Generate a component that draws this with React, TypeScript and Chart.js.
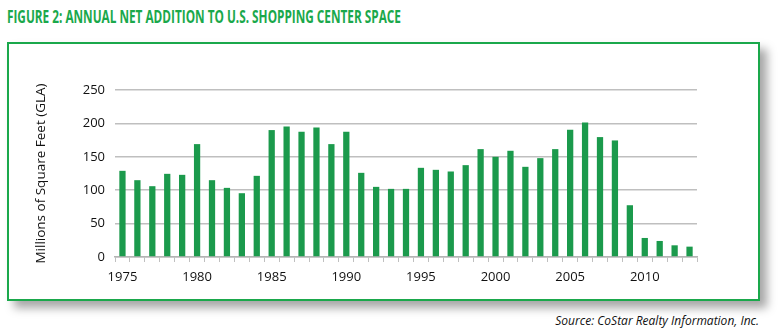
import React, { useEffect, useRef } from "react";
import { Chart, registerables } from "chart.js";
Chart.register(...registerables);

const years = [
  "1975", "1976", "1977", "1978", "1979", "1980", "1981", "1982", "1983", "1984",
  "1985", "1986", "1987", "1988", "1989", "1990", "1991", "1992", "1993", "1994",
  "1995", "1996", "1997", "1998", "1999", "2000", "2001", "2002", "2003", "2004",
  "2005", "2006", "2007", "2008", "2009", "2010", "2011", "2012", "2013",
];
const additions = [
  129, 115, 106, 124.5, 123, 169, 115, 103.5, 95.5, 121.5,
  190, 195.5, 187.5, 194, 169, 187.5, 126, 105, 102, 102,
  133.5, 130.5, 128, 137.5, 161.5, 150, 159, 135, 148, 161.5,
  190.5, 201.5, 179.5, 174.5, 77.5, 28.5, 24, 17.5, 15.5,
];
const shownYears = ["1975", "1980", "1985", "1990", "1995", "2000", "2005", "2010"];
const yMin = 0;
const yMax = 250;
const yStep = 50;

const titleText = "FIGURE 2: ANNUAL NET ADDITION TO U.S. SHOPPING CENTER SPACE";
const yTitle = "Millions of Square Feet (GLA)";
const sourceText = "Source: CoStar Realty Information, Inc.";

const GREEN = "#1aa84b";
const BAR = "#1b9a4c";

export default function App() {
  const ref = useRef<HTMLCanvasElement | null>(null);
  useEffect(() => {
    if (!ref.current) return;
    const tickFont = { family: "'Open Sans', 'DejaVu Sans', sans-serif", size: 13 };
    const chart = new Chart(ref.current, {
      type: "bar",
      data: {
        labels: years,
        datasets: [
          {
            data: additions,
            backgroundColor: BAR,
            barPercentage: 0.42,
            categoryPercentage: 1,
          },
        ],
      },
      options: {
        animation: false,
        responsive: false,
        maintainAspectRatio: false,
        layout: { padding: { left: 20, top: 46, right: 61, bottom: 0 } },
        plugins: { legend: { display: false }, tooltip: { enabled: false } },
        scales: {
          x: {
            grid: {
              drawOnChartArea: false,
              drawTicks: true,
              tickLength: 5,
              color: "#c0c0c0",
              offset: true,
            },
            border: { color: "#b4b4b4", width: 1.5 },
            ticks: {
              autoSkip: false,
              maxRotation: 0,
              padding: 7,
              color: "#111",
              font: tickFont,
              callback: (_v: any, i: number) => (shownYears.includes(years[i]) ? years[i] : ""),
            },
            afterFit: (s: any) => {
              s.height = 42;
            },
          },
          y: {
            min: yMin,
            max: yMax,
            ticks: { stepSize: yStep, padding: 10, color: "#111", font: tickFont },
            grid: { drawTicks: false, color: "#bfbfbf", lineWidth: 1.5 },
            border: { display: false },
            title: {
              display: true,
              text: yTitle,
              color: "#111",
              font: { family: "'Open Sans', 'DejaVu Sans', sans-serif", size: 13.5 },
            },
            afterFit: (s: any) => {
              s.width = 86;
            },
          },
        },
      },
    } as any);
    return () => chart.destroy();
  }, []);

  return (
    <div style={{ position: "absolute", left: 0, top: 0, width: 783, height: 334, background: "#fff", overflow: "hidden" }}>
      <div
        style={{
          position: "absolute",
          left: 7,
          top: 7,
          fontFamily: "'Open Sans', 'DejaVu Sans', sans-serif",
          fontWeight: 700,
          fontSize: 17,
          color: GREEN,
          whiteSpace: "nowrap",
          lineHeight: "20px",
          transform: "scaleX(0.693)",
          transformOrigin: "0 0",
        }}
      >
        {titleText}
      </div>
      <div
        style={{
          position: "absolute",
          left: 7,
          top: 42,
          width: 749,
          height: 255,
          border: `2px solid ${GREEN}`,
          background: "#fff",
          boxShadow: "7px 7px 9px rgba(0,0,0,0.35)",
        }}
      >
        <canvas ref={ref} width={749} height={255} style={{ display: "block", width: 749, height: 255 }} />
      </div>
      <div
        style={{
          position: "absolute",
          right: 24,
          top: 313,
          fontFamily: "'Open Sans', 'DejaVu Sans', sans-serif",
          fontStyle: "italic",
          fontSize: 12,
          color: "#111",
          whiteSpace: "nowrap",
          lineHeight: "16px",
        }}
      >
        {sourceText}
      </div>
    </div>
  );
}
